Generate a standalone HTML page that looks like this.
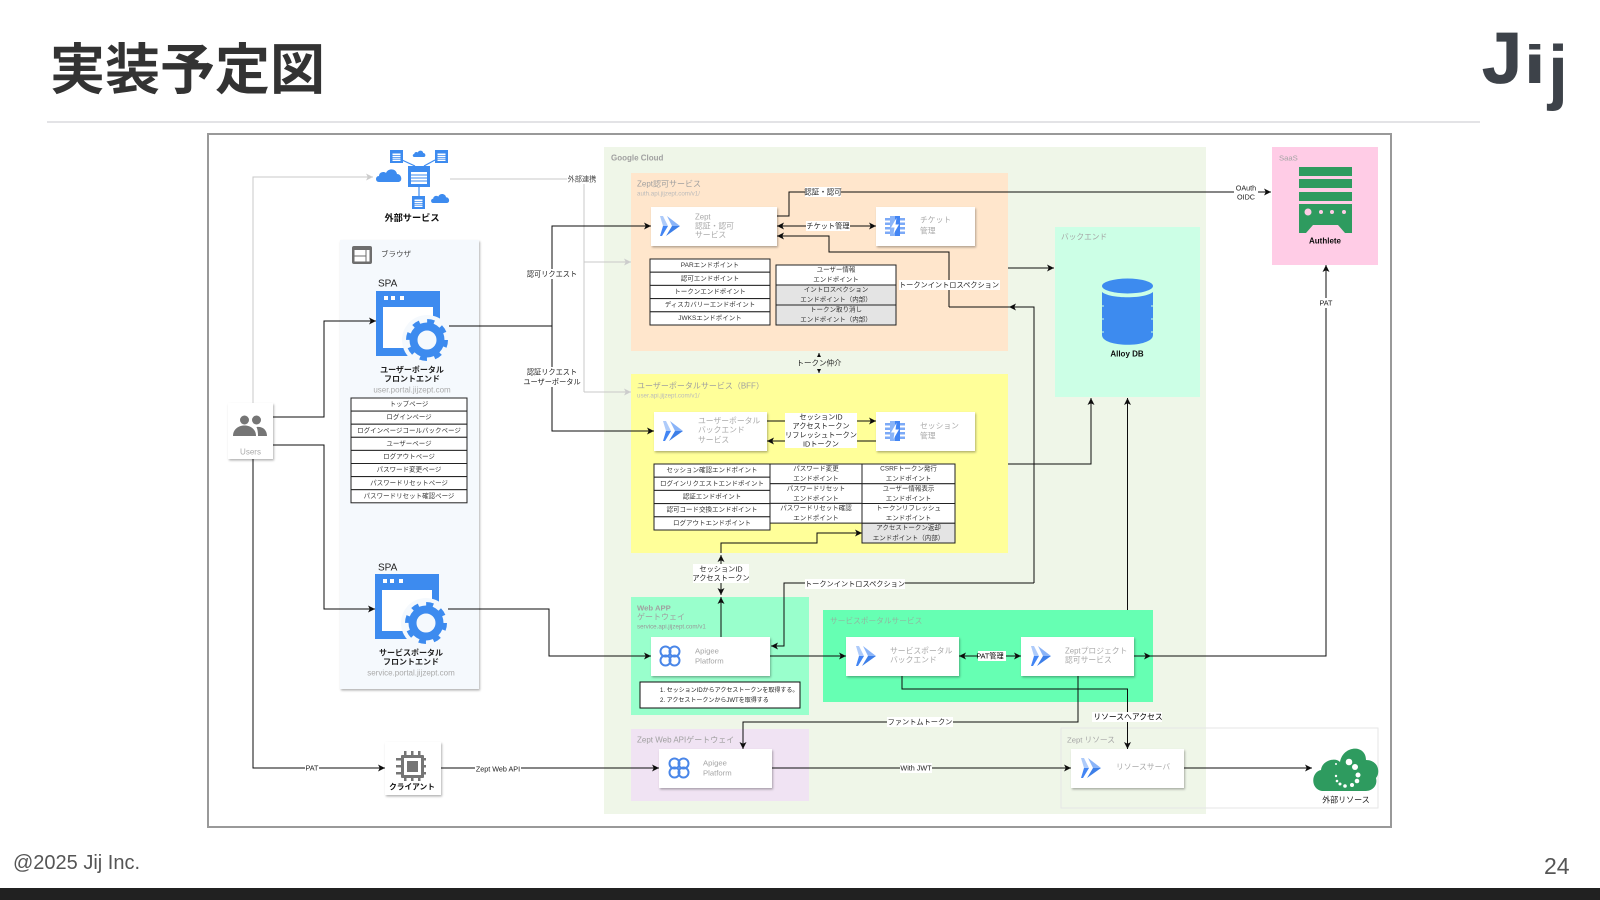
<!DOCTYPE html>
<html><head><meta charset="utf-8"><title>実装予定図</title>
<style>
html,body{margin:0;padding:0;background:#fff;width:1600px;height:900px;overflow:hidden}
svg{display:block}
text{font-family:"Liberation Sans","Noto Sans CJK JP",sans-serif;dominant-baseline:central;fill:#111}
.l{font-size:7.2px;text-anchor:middle;fill:#222}
.t{font-size:6.5px;text-anchor:middle;fill:#333}
.b{font-size:7.8px;fill:#aaa}
.s{font-size:7.7px;fill:#a5a5a5}
.sb{font-size:8px;fill:#a0a0a0}
.sbb{font-size:7.7px;fill:#a0a0a0;font-weight:bold}
.u{font-size:6.2px;fill:#bbb}
.h{font-size:8px;font-weight:bold;text-anchor:middle;fill:#222}
.g{font-size:8px;text-anchor:middle;fill:#aaa}
.e{fill:none;stroke:#111;stroke-width:1}
.a{marker-end:url(#m)}
.gl{fill:none;stroke:#c8c8c8;stroke-width:1}
.c{fill:#fff;filter:url(#sh)}
.w{fill:#fff}
.tb{fill:#fff;stroke:#222;stroke-width:1}
.gr{fill:#e4e4e4;stroke:#222;stroke-width:1}
</style></head><body>
<svg width="1600" height="900" viewBox="0 0 1600 900" xmlns="http://www.w3.org/2000/svg">
<defs>
<filter id="sh" x="-10%" y="-15%" width="125%" height="135%"><feDropShadow dx="1" dy="1.5" stdDeviation="1" flood-color="#000" flood-opacity=".3"/></filter>
<filter id="soft" filterUnits="userSpaceOnUse" x="200" y="125" width="1200" height="710"><feGaussianBlur stdDeviation="0.3"/></filter>
<marker id="m" viewBox="0 0 8 8" refX="8" refY="4" markerWidth="7" markerHeight="7" markerUnits="userSpaceOnUse" orient="auto-start-reverse"><path d="M0 0L8 4L0 8L2 4Z" fill="#111"/></marker>
<marker id="mg" viewBox="0 0 8 8" refX="8" refY="4" markerWidth="7" markerHeight="7" markerUnits="userSpaceOnUse" orient="auto-start-reverse"><path d="M0 0L8 4L0 8L2 4Z" fill="#ccc"/></marker>
<symbol id="run" viewBox="0 0 20 20" overflow="visible">
<polygon points="0,0 3,0 8,10 0,10 3,10" fill="#aecbfa"/>
<polygon points="3,10 8,10 2,20 0,20" fill="#4285f4"/>
<polygon points="7,0 20,10 12,10" fill="#8ab4f8"/>
<polygon points="12,10 20,10 6,20" fill="#3d7fe8"/>
</symbol>
<symbol id="fn" viewBox="0 0 20 20" overflow="visible">
<path d="M0 2h20v2.500H0zM0 6.500h20V9H0zM0 11h20v2.500H0zM0 15.500h20V18H0z" fill="#7baaf7"/>
<rect x="5" y="0" width="5" height="20" fill="#8ab4f8"/>
<rect x="10" y="0" width="5" height="20" fill="#4285f4"/>
<polygon points="11.500,2 6,11.500 9.500,11.500 8.500,18 14,8.500 10.500,8.500" fill="#fff"/>
</symbol>
<symbol id="apg" viewBox="0 0 22 22" overflow="visible">
<g fill="none" stroke="#4a86e8" stroke-width="2"><circle cx="6.500" cy="6.500" r="5"/><circle cx="15.500" cy="6.500" r="5"/><circle cx="6.500" cy="15.500" r="5"/><circle cx="15.500" cy="15.500" r="5"/></g>
</symbol>
<symbol id="win" viewBox="0 0 72 72" overflow="visible">
<rect x="0" y="0" width="64" height="65" fill="#3d8bef"/>
<rect x="7" y="16" width="50" height="41" fill="#fff"/>
<rect x="8" y="5" width="4" height="4" fill="#fff"/><rect x="15" y="5" width="4" height="4" fill="#fff"/><rect x="24" y="5" width="4" height="4" fill="#fff"/>
<circle cx="51" cy="49" r="25" fill="#f5f9fd"/>
<circle cx="51" cy="49" r="13.500" fill="none" stroke="#3d8bef" stroke-width="8"/>
<circle cx="51" cy="49" r="18.500" fill="none" stroke="#3d8bef" stroke-width="5" stroke-dasharray="7 7.53"/>
</symbol>
<symbol id="tbl" viewBox="0 0 13 13" overflow="visible">
<rect width="13" height="13" fill="#3d8bef"/><rect x="2.500" y="3.500" width="8" height="7.500" fill="#fff"/>
<path d="M2.500 5.500h8M2.500 7.500h8M2.500 9.200h8" stroke="#3d8bef" stroke-width=".8"/>
</symbol>
<symbol id="cl" viewBox="0 0 27 14" overflow="visible">
<path d="M4 14C0 14 0 8 4 8C4 4 9 3 11 5C13 0 21 0 22 6C27 6 28 14 23 14Z" fill="#3d8bef"/>
</symbol>
</defs>

<rect width="1600" height="900" fill="#fff"/>
<text x="50" y="70" font-size="55" font-weight="bold" style="fill:#333">実装予定図</text>
<rect x="47" y="121" width="1433" height="2" fill="#e3e3e6"/>
<text x="1482" y="83" font-size="72" stroke="#3d4249" stroke-width=".8" style="fill:#3d4249;dominant-baseline:auto;font-weight:bold">J</text>
<text transform="translate(1523.500 83) scale(1.5 1)" font-size="54" style="fill:#3d4249;dominant-baseline:auto;font-weight:bold">i</text>
<text x="1548" y="96" font-size="72" style="fill:#3d4249;dominant-baseline:auto;font-weight:bold">j</text>
<text x="13" y="863" font-size="20" style="fill:#555">@2025 Jij Inc.</text>
<text x="1544" y="866" font-size="23" style="fill:#555">24</text>
<rect x="0" y="888" width="1600" height="12" fill="#212121"/>

<g filter="url(#soft)">
<!-- frame -->
<rect x="208" y="134" width="1183" height="693" fill="#fff" stroke="#999" stroke-width="2"/>

<!-- panels -->
<rect x="604" y="147" width="602" height="667" fill="#eff6e8"/>
<text x="611" y="158" font-size="8" font-weight="bold" style="fill:#a0a0a0">Google Cloud</text>
<rect x="340" y="240" width="139" height="449" fill="#f5f9fd" filter="url(#sh)"/>
<rect x="631" y="173" width="377" height="178" fill="#ffe6cc"/>
<rect x="631" y="374" width="377" height="179" fill="#ffff99"/>
<rect x="631" y="597" width="178" height="118" fill="#99ffcc"/>
<rect x="823" y="610" width="330" height="92" fill="#66ffb3"/>
<rect x="631" y="729" width="178" height="72" fill="#f0e3f3"/>
<rect x="1055" y="227" width="145" height="170" fill="#ccffe6"/>
<rect x="1272" y="147" width="106" height="118" fill="#ffcce6"/>
<rect x="1061" y="728" width="317" height="80" fill="none" stroke="#e6e6e6" stroke-width="1"/>

<text x="637" y="184" class="sb">Zept認可サービス</text>
<text x="637" y="194" class="u">auth.api.jijzept.com/v1/</text>
<text x="637" y="386" class="sb">ユーザーポータルサービス（BFF）</text>
<text x="637" y="396" class="u">user.api.jijzept.com/v1/</text>
<text x="637" y="608" class="sbb">Web APP</text>
<text x="637" y="617" class="sb">ゲートウェイ</text>
<text x="637" y="627" class="u" style="fill:#999">service.api.jijzept.com/v1</text>
<text x="830" y="621" class="s" style="fill:#8fb8a0">サービスポータルサービス</text>
<text x="637" y="740" class="sb">Zept Web APIゲートウェイ</text>
<text x="1061" y="237" class="s">バックエンド</text>
<text x="1279" y="158" class="s">SaaS</text>
<text x="1067" y="740" class="s">Zept リソース</text>

<!-- gray connectors -->
<path class="gl" marker-end="url(#mg)" d="M253 403V177H373"/>
<path class="gl" d="M450 179H584V392"/>
<path class="gl" marker-end="url(#mg)" d="M584 262H631"/>
<path class="gl" marker-end="url(#mg)" d="M584 392H631"/>

<!-- black connectors -->
<path class="e a" d="M273 417H324V321H376"/>
<path class="e a" d="M273 445H324V609H375"/>
<path class="e a" d="M253 459V768H385"/>
<path class="e a" d="M441 768H659"/>
<path class="e" d="M449 326H552"/>
<path class="e a" d="M552 326V226H651"/>
<path class="e a" d="M552 326V431H654"/>
<path class="e a" d="M448 609H549V656H651"/>
<path class="e a" d="M777 216H789V192H1271"/>
<path class="e a" style="marker-start:url(#m)" d="M777 226H876"/>
<path class="e a" d="M949 307V252H829V236H777"/>
<path class="e" d="M949 307H1010"/>
<path class="e a" d="M1034 583V307H1009"/>
<path class="e a" d="M1034 583H784V646H771"/>
<path class="e a" d="M1008 268H1054"/>
<path class="e a" d="M1008 464H1091V398"/>
<path class="e a" d="M1127.500 610V398"/>
<path class="e a" style="marker-start:url(#m)" d="M819 353V373"/>
<path class="e a" d="M767 421H876"/>
<path class="e a" d="M876 441H767"/>
<path class="e a" d="M721 553V543H817V533H862"/>
<path class="e a" style="marker-start:url(#m)" d="M721 555V595"/>
<path class="e a" d="M721 637V597"/>
<path class="e a" d="M770 656H846"/>
<path class="e a" style="marker-start:url(#m)" d="M959 656H1021"/>
<path class="e a" d="M1134 656H1151"/>
<path class="e" d="M1151 656H1326V266"/>
<path class="e a" d="M1326 656V265"/>
<path class="e a" d="M902 676V689H1127.500V749"/>
<path class="e a" d="M1078 676V722H743V749"/>
<path class="e a" d="M772 768H1071"/>
<path class="e a" d="M1184 768H1312"/>

<!-- Users -->
<rect x="228" y="403" width="45" height="56" class="c"/>
<g fill="#757575"><circle cx="244.500" cy="420" r="4.500"/><circle cx="256.500" cy="420" r="4.500"/><path d="M233 436c0-14 23-14 23 0z"/><path d="M256.500 427c5-1 10.500 2 10.500 9h-9c0-4-.5-6.500-1.500-9z"/></g>
<text x="250.500" y="452" font-size="8" text-anchor="middle" style="fill:#aaa">Users</text>

<!-- External service icon -->
<g stroke="#3d8bef" stroke-width="1.200" fill="none"><path d="M402 160L415 166M435 160L424 166M419 187V196"/></g>
<rect x="408" y="166" width="22" height="21" fill="#3d8bef"/><rect x="411" y="172" width="16" height="12" fill="#fff"/><path d="M411 175h16M411 178h16M411 181h16" stroke="#3d8bef"/>
<use href="#tbl" x="390" y="150" width="13" height="13"/>
<use href="#tbl" x="435" y="150" width="13" height="13"/>
<use href="#tbl" x="412" y="196" width="13" height="13"/>
<use href="#cl" x="375" y="168" width="27" height="14"/>
<use href="#cl" x="412" y="150" width="14" height="7"/>
<use href="#cl" x="430" y="193" width="20" height="10"/>
<text x="412" y="218" font-size="9.200" font-weight="bold" text-anchor="middle">外部サービス</text>

<!-- Browser -->
<rect x="352" y="246" width="20" height="18" rx="2" fill="#6e6e6e"/><rect x="354.500" y="250" width="11" height="5.500" fill="#fff"/><rect x="354.500" y="256.500" width="11" height="5" fill="#fff"/><rect x="366.500" y="250" width="3" height="11.500" fill="#fff"/>
<text x="381" y="254" font-size="7.500" style="fill:#444">ブラウザ</text>
<text x="378" y="284" font-size="10" style="fill:#222">SPA</text>
<use href="#win" x="376" y="291" width="72" height="72"/>
<text x="412" y="370" class="h">ユーザーポータル</text>
<text x="412" y="379" class="h">フロントエンド</text>
<text x="412" y="390" class="g">user.portal.jijzept.com</text>

<g>
<rect x="351" y="398" width="116" height="13.100" class="tb"/><rect x="351" y="411.100" width="116" height="13.100" class="tb"/><rect x="351" y="424.200" width="116" height="13.100" class="tb"/><rect x="351" y="437.300" width="116" height="13.100" class="tb"/><rect x="351" y="450.400" width="116" height="13.100" class="tb"/><rect x="351" y="463.500" width="116" height="13.100" class="tb"/><rect x="351" y="476.600" width="116" height="13.100" class="tb"/><rect x="351" y="489.700" width="116" height="13.100" class="tb"/>
<text x="409" y="404.600" class="t">トップページ</text>
<text x="409" y="417.700" class="t">ログインページ</text>
<text x="409" y="430.800" class="t">ログインページコールバックページ</text>
<text x="409" y="443.900" class="t">ユーザーページ</text>
<text x="409" y="457" class="t">ログアウトページ</text>
<text x="409" y="470.200" class="t">パスワード変更ページ</text>
<text x="409" y="483.300" class="t">パスワードリセットページ</text>
<text x="409" y="496.400" class="t">パスワードリセット確認ページ</text>
</g>

<text x="378" y="568" font-size="10" style="fill:#222">SPA</text>
<use href="#win" x="375" y="574" width="72" height="72"/>
<text x="411" y="653" class="h">サービスポータル</text>
<text x="411" y="662" class="h">フロントエンド</text>
<text x="411" y="673" class="g">service.portal.jijzept.com</text>

<!-- Client -->
<rect x="385" y="742" width="56" height="53" class="c"/>
<g fill="#757575"><rect x="401" y="755" width="23" height="23" rx="1"/><path d="M404 751h2.500v30h-2.500zM411 751h2.500v30h-2.500zM418 751h2.500v30h-2.500zM396 758h30v2.500h-30zM396 765h30v2.500h-30zM396 772h30v2.500h-30z"/></g>
<rect x="404" y="758" width="17" height="17" fill="#fff"/><rect x="407" y="761" width="11" height="11" fill="#757575"/>
<text x="412" y="787" font-size="7.700" font-weight="bold" text-anchor="middle">クライアント</text>

<!-- Auth service -->
<rect x="651" y="207" width="126" height="39" class="c"/>
<use href="#run" x="660" y="216" width="20" height="20"/>
<text x="695" y="217" class="b">Zept</text><text x="695" y="226" class="b">認証・認可</text><text x="695" y="235" class="b">サービス</text>
<rect x="876" y="207" width="99" height="39" class="c"/>
<use href="#fn" x="885" y="216" width="20" height="20"/>
<text x="920" y="220" class="b">チケット</text><text x="920" y="231" class="b">管理</text>

<g>
<rect x="650" y="259" width="120" height="13.200" class="tb"/><rect x="650" y="272.200" width="120" height="13.200" class="tb"/><rect x="650" y="285.400" width="120" height="13.200" class="tb"/><rect x="650" y="298.600" width="120" height="13.200" class="tb"/><rect x="650" y="311.800" width="120" height="13.200" class="tb"/>
<text x="710" y="265.600" class="t">PARエンドポイント</text>
<text x="710" y="278.800" class="t">認可エンドポイント</text>
<text x="710" y="292" class="t">トークンエンドポイント</text>
<text x="710" y="305.200" class="t">ディスカバリーエンドポイント</text>
<text x="710" y="318.400" class="t">JWKSエンドポイント</text>
<rect x="776" y="265" width="120" height="20" class="tb"/><rect x="776" y="285" width="120" height="20" class="gr"/><rect x="776" y="305" width="120" height="20" class="gr"/>
<text x="836" y="270" class="t">ユーザー情報</text><text x="836" y="280" class="t">エンドポイント</text>
<text x="836" y="290" class="t">イントロスペクション</text><text x="836" y="300" class="t">エンドポイント（内部）</text>
<text x="836" y="310" class="t">トークン取り消し</text><text x="836" y="320" class="t">エンドポイント（内部）</text>
</g>

<!-- BFF -->
<rect x="654" y="412" width="113" height="39" class="c"/>
<use href="#run" x="663" y="421" width="20" height="20"/>
<text x="698" y="421" class="b">ユーザーポータル</text><text x="698" y="430" class="b">バックエンド</text><text x="698" y="440" class="b">サービス</text>
<rect x="876" y="412" width="99" height="39" class="c"/>
<use href="#fn" x="885" y="421" width="20" height="20"/>
<text x="920" y="426" class="b">セッション</text><text x="920" y="436" class="b">管理</text>
<rect x="785" y="413" width="72" height="35" class="w"/>
<text x="821" y="417" class="l">セッションID</text><text x="821" y="426" class="l">アクセストークン</text><text x="821" y="435" class="l">リフレッシュトークン</text><text x="821" y="444" class="l">IDトークン</text>

<g>
<rect x="654" y="464" width="116" height="13.200" class="tb"/><rect x="654" y="477.200" width="116" height="13.200" class="tb"/><rect x="654" y="490.400" width="116" height="13.200" class="tb"/><rect x="654" y="503.600" width="116" height="13.200" class="tb"/><rect x="654" y="516.800" width="116" height="13.200" class="tb"/>
<text x="712" y="470.600" class="t">セッション確認エンドポイント</text>
<text x="712" y="483.800" class="t">ログインリクエストエンドポイント</text>
<text x="712" y="497" class="t">認証エンドポイント</text>
<text x="712" y="510.200" class="t">認可コード交換エンドポイント</text>
<text x="712" y="523.400" class="t">ログアウトエンドポイント</text>
<rect x="770" y="464" width="92" height="19.700" class="tb"/><rect x="770" y="483.700" width="92" height="19.700" class="tb"/><rect x="770" y="503.400" width="92" height="19.700" class="tb"/>
<text x="816" y="469" class="t">パスワード変更</text><text x="816" y="479" class="t">エンドポイント</text>
<text x="816" y="489" class="t">パスワードリセット</text><text x="816" y="499" class="t">エンドポイント</text>
<text x="816" y="508.500" class="t">パスワードリセット確認</text><text x="816" y="518.500" class="t">エンドポイント</text>
<rect x="862" y="464" width="93" height="19.750" class="tb"/><rect x="862" y="483.750" width="93" height="19.750" class="tb"/><rect x="862" y="503.500" width="93" height="19.750" class="tb"/><rect x="862" y="523.250" width="93" height="19.750" class="gr"/>
<text x="908.500" y="469" class="t">CSRFトークン発行</text><text x="908.500" y="479" class="t">エンドポイント</text>
<text x="908.500" y="489" class="t">ユーザー情報表示</text><text x="908.500" y="499" class="t">エンドポイント</text>
<text x="908.500" y="508.500" class="t">トークンリフレッシュ</text><text x="908.500" y="518.500" class="t">エンドポイント</text>
<text x="908.500" y="528" class="t">アクセストークン返却</text><text x="908.500" y="538.500" class="t">エンドポイント（内部）</text>
</g>

<!-- Web app gateway -->
<rect x="651" y="637" width="119" height="39" class="c"/>
<use href="#apg" x="659" y="645" width="22" height="22"/>
<text x="695" y="651" class="s">Apigee</text><text x="695" y="661" class="s">Platform</text>
<rect x="640" y="682" width="160" height="26" fill="#fff" stroke="#111" stroke-width="1"/>
<text x="660" y="691" font-size="6" style="fill:#222">1. セッションIDからアクセストークンを取得する。</text>
<text x="660" y="701" font-size="6" style="fill:#222">2. アクセストークンからJWTを取得する</text>

<!-- service portal -->
<rect x="846" y="637" width="113" height="39" class="c"/>
<use href="#run" x="856" y="646" width="20" height="20"/>
<text x="890" y="651" class="b">サービスポータル</text><text x="890" y="660" class="b">バックエンド</text>
<rect x="1021" y="637" width="113" height="39" class="c"/>
<use href="#run" x="1031" y="646" width="20" height="20"/>
<text x="1065" y="651" class="b">Zeptプロジェクト</text><text x="1065" y="660" class="b">認可サービス</text>

<!-- Zept web API -->
<rect x="659" y="749" width="113" height="39" class="c"/>
<use href="#apg" x="668" y="757" width="22" height="22"/>
<text x="703" y="763" class="s">Apigee</text><text x="703" y="773" class="s">Platform</text>

<!-- Resource -->
<rect x="1071" y="749" width="113" height="39" class="c"/>
<use href="#run" x="1081" y="758" width="20" height="20"/>
<text x="1116" y="767" class="b">リソースサーバ</text>
<path d="M1322 791C1310 789 1311 772 1321 770C1322 760 1336 757 1340 762C1343 745 1366 744 1366 760C1378 760 1381 772 1376 778C1378 786 1372 791 1366 791Z" fill="#2e9b5f"/>
<g fill="#fff"><circle cx="1336" cy="764" r="1"/><circle cx="1337" cy="781" r="1.300"/><circle cx="1336" cy="776" r="1.200"/><circle cx="1340" cy="784" r="1.500"/><circle cx="1345" cy="786" r="1.800"/><circle cx="1352" cy="785" r="2"/><circle cx="1357" cy="781" r="2.300"/><circle cx="1358" cy="775" r="2.500"/><circle cx="1355" cy="767" r="3"/><circle cx="1349" cy="762" r="3.300"/></g>
<text x="1346" y="800" font-size="8" text-anchor="middle" style="fill:#222">外部リソース</text>

<!-- DB -->
<path d="M1102 292c8 7 43 7 51 0v43c0 13-51 13-51 0z" fill="#3d8bef"/>
<ellipse cx="1127.500" cy="286" rx="25.500" ry="7.500" fill="#3d8bef"/>
<path d="M1102 306h2M1102 319h2M1102 332h2M1151 306h2M1151 319h2M1151 332h2" stroke="#ccffe6"/>
<text x="1127" y="354" font-size="8" font-weight="bold" text-anchor="middle">Alloy DB</text>

<!-- SaaS -->
<g fill="#2e9b5f"><rect x="1299" y="167" width="53" height="9"/><rect x="1299" y="179" width="53" height="9"/><rect x="1299" y="192" width="53" height="9"/><path d="M1299 204h53v29h-7l-7-8h-25l-7 8h-7z"/></g>
<g fill="#ffcce6"><circle cx="1308" cy="212" r="3.500"/><circle cx="1321" cy="212" r="2"/><circle cx="1332" cy="212" r="2"/><circle cx="1344" cy="212" r="2"/></g>
<text x="1325" y="241" font-size="8" font-weight="bold" text-anchor="middle">Authlete</text>

<!-- labels with white background -->
<rect x="567" y="174" width="30" height="10" class="w"/><text x="582" y="179" class="l" style="fill:#444">外部連携</text>
<rect x="527" y="269" width="50" height="10" class="w"/><text x="552" y="274" class="l">認可リクエスト</text>
<rect x="523" y="367" width="58" height="20" class="w"/><text x="552" y="372" class="l">認証リクエスト</text><text x="552" y="382" class="l">ユーザーポータル</text>
<rect x="305" y="763" width="14" height="10" class="w"/><text x="312" y="768" class="l">PAT</text>
<rect x="475" y="764" width="46" height="10" class="w"/><text x="498" y="769" class="l">Zept Web API</text>
<rect x="805" y="187" width="36" height="10" class="w"/><text x="823" y="192" class="l" style="font-size:7.500px">認証・認可</text>
<rect x="1234" y="183" width="24" height="19" class="w"/><text x="1246" y="188" class="l">OAuth</text><text x="1246" y="197" class="l">OIDC</text>
<rect x="806" y="221" width="44" height="10" class="w"/><text x="828" y="226" class="l">チケット管理</text>
<rect x="899" y="280" width="101" height="10" class="w"/><text x="949" y="285" class="l">トークンイントロスペクション</text>
<rect x="797" y="357" width="44" height="12" fill="#eff6e8"/><text x="819" y="363" class="l" style="font-size:7.500px">トークン仲介</text>
<rect x="693" y="564" width="56" height="19" class="w"/><text x="721" y="569" class="l">セッションID</text><text x="721" y="578" class="l">アクセストークン</text>
<rect x="805" y="579" width="100" height="10" class="w"/><text x="855" y="584" class="l">トークンイントロスペクション</text>
<rect x="978" y="651" width="28" height="10" class="w"/><text x="990" y="656" class="l" style="fill:#000">PAT管理</text>
<rect x="1092" y="712" width="70" height="10" class="w"/><text x="1128" y="717" class="l" style="fill:#000;font-size:7.800px">リソースへアクセス</text>
<rect x="887" y="717" width="66" height="10" class="w"/><text x="920" y="722" class="l">ファントムトークン</text>
<rect x="900" y="763" width="32" height="10" class="w"/><text x="916" y="768" class="l">With JWT</text>
<rect x="1319" y="298" width="14" height="10" class="w"/><text x="1326" y="303" class="l">PAT</text>
</g>
</svg>
</body></html>
